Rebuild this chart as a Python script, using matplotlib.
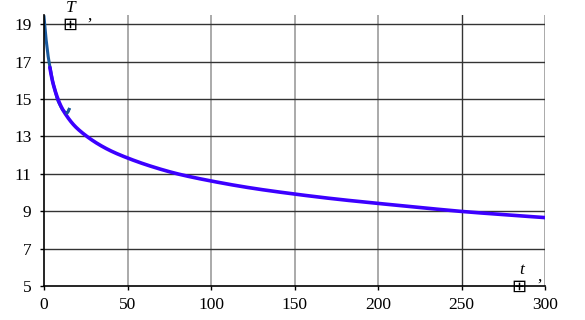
import numpy as np
import matplotlib.pyplot as plt

# measured data (dark teal, early part)
t_meas = [0, 0.5, 1, 1.5, 2, 3, 4, 5, 6.5, 8, 9.5, 11, 12.5, 13.5, 14.2, 15]
T_meas = [19.4, 18.9, 18.4, 18.0, 17.6, 17.0, 16.5, 16.0, 15.5, 15.0, 14.7, 14.45, 14.3, 14.25, 14.3, 14.45]

# model curve (blue)
t_fit = [3.5, 5, 7, 10, 14, 18, 25, 32, 40, 50, 65, 80, 100, 125, 150, 175, 200, 225, 250, 275, 300]
T_fit = [16.7, 16.0, 15.35, 14.65, 14.05, 13.6, 13.05, 12.62, 12.23, 11.85, 11.38, 11.0, 10.62,
         10.23, 9.92, 9.65, 9.42, 9.2, 8.99, 8.82, 8.66]

xticks = [0, 50, 100, 150, 200, 250, 300]
yticks = [5, 7, 9, 11, 13, 15, 17, 19]


def pchip(x, y, xn):
    # monotone cubic through the read points, only to draw a smooth line
    x = np.asarray(x, float)
    y = np.asarray(y, float)
    h = np.diff(x)
    d = np.diff(y) / h
    m = np.zeros_like(y)
    for i in range(1, len(y) - 1):
        if d[i - 1] * d[i] > 0:
            w1 = 2 * h[i] + h[i - 1]
            w2 = h[i] + 2 * h[i - 1]
            m[i] = (w1 + w2) / (w1 / d[i - 1] + w2 / d[i])
    m[0], m[-1] = d[0], d[-1]
    k = np.clip(np.searchsorted(x, xn) - 1, 0, len(h) - 1)
    s = (xn - x[k]) / h[k]
    h00 = 2 * s**3 - 3 * s**2 + 1
    h10 = s**3 - 2 * s**2 + s
    h01 = -2 * s**3 + 3 * s**2
    h11 = s**3 - s**2
    return h00 * y[k] + h10 * h[k] * m[k] + h01 * y[k + 1] + h11 * h[k] * m[k + 1]


plt.rcParams['font.family'] = ['Liberation Serif', 'DejaVu Sans']

fig = plt.figure(figsize=(5.85, 3.2), dpi=100)
ax = fig.add_axes([44 / 585, 34 / 320, 501 / 585, 271 / 320])

for x in xticks[1:]:
    if x == 250:
        ax.axvline(x, color="#333333", lw=1.0, zorder=0)
    else:
        ax.axvline(x, color="#aaaaaa", lw=1.4, zorder=0)
for y in yticks[1:]:
    ax.axhline(y, color="#333333", lw=1.0, zorder=0)

ts = np.linspace(t_fit[0], t_fit[-1], 800)
Ts = pchip(np.log(t_fit), T_fit, np.log(ts))
tm = np.linspace(0, 15, 200)
Tm = pchip(t_meas, T_meas, tm)

ax.plot(tm, Tm, color="#1a5a9e", lw=2.2, zorder=2)
ax.plot(ts, Ts, color="#3c00ff", lw=2.6, zorder=3, solid_capstyle="round")
ax.plot(tm[tm > 13.5], Tm[tm > 13.5], color="#1a5a9e", lw=1.8, zorder=4)

ax.set_xlim(0, 300)
ax.set_ylim(5, 19.5)
ax.set_xticks(xticks)
ax.set_yticks(yticks)
ax.tick_params(labelsize=12.5, length=3, width=1, direction="out", colors="black")
ax.tick_params(axis="y", pad=6)
ax.tick_params(axis="x", pad=5)
for s in ["top", "right"]:
    ax.spines[s].set_visible(False)
for s in ["left", "bottom"]:
    ax.spines[s].set_linewidth(1.2)

# Maple-style axis labels
ax.text(16, 19.42, "T", style="italic", fontsize=12.5, ha="center", va="bottom", clip_on=False)
ax.text(15.5, 19.0, "\u229e", family="DejaVu Sans", fontsize=13, ha="center", va="center")
ax.text(27, 19.27, ",", fontsize=12.5, ha="center", va="baseline")
ax.text(286, 5.42, "t", style="italic", fontsize=12.5, ha="center", va="bottom", clip_on=False)
ax.text(284.5, 4.95, "\u229e", family="DejaVu Sans", fontsize=13, ha="center", va="center",
        clip_on=False)
ax.text(296.5, 5.3, ",", fontsize=12.5, ha="center", va="baseline")

fig.savefig("out.png", dpi=100)
